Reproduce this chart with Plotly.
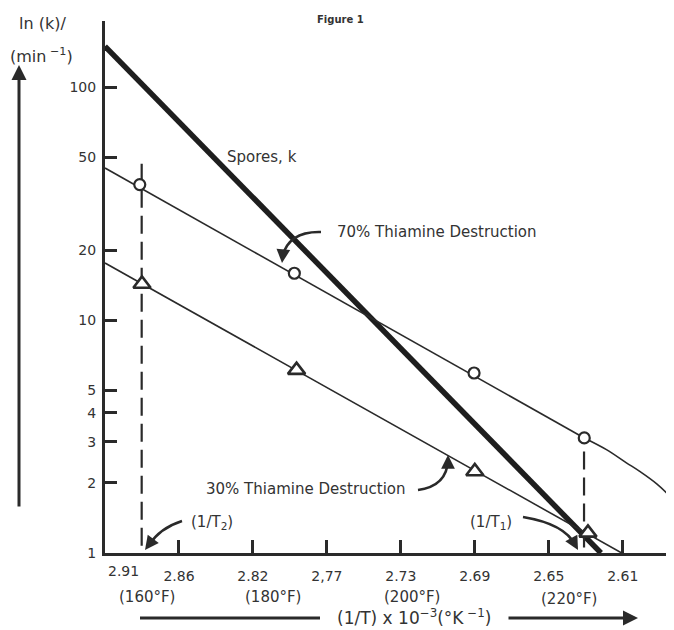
import plotly.graph_objects as go

# ---------------- data (x measured on the evenly spaced 160..230 °F tick scale) ----------
tick_pos = [160, 170, 180, 190, 200, 210, 220, 230]
tick_text = ["", "2.86", "2.82", "2,77", "2.73", "2.69", "2.65", "2.61"]
y_ticks = [1, 2, 3, 4, 5, 10, 20, 50, 100]

spores_x = [160.0, 227.06]
spores_k = [150.0, 1.0]

thi70_fit_x = [160.0, 224.8]
thi70_fit_k = [45.0, 3.12]
thi70_tail_x = [224.8, 227.8, 230.5, 232.3, 234.6, 236.9]
thi70_tail_k = [3.12, 2.78, 2.44, 2.24, 1.98, 1.69]
thi70_pts_x = [164.7, 185.6, 209.9, 224.8]
thi70_pts_k = [38.2, 15.9, 5.93, 3.12]

thi30_fit_x = [160.0, 229.86]
thi30_fit_k = [17.6, 1.0]
thi30_pts_x = [165.0, 185.9, 210.0, 225.3]
thi30_pts_k = [14.3, 6.1, 2.24, 1.22]

t2_x = [164.96, 164.96]
t2_k = [47.0, 1.0]
t1_x = [224.77, 224.77]
t1_k = [2.73, 1.0]

# ---------------- geometry helpers (page pixels; body has an 8px margin) ----------------
OFF = 8
W, H = 674 - OFF, 630 - OFF
ML, MR, MT, MB = 105 - OFF, 0, 21 - OFF, 77
PW, PH = W - ML - MR, H - MT - MB
DEC = 232.85
X0, Y0 = 105, 553  # page position of the plot's bottom-left corner


def pp(px, py):
    return (px - X0) / PW, (Y0 - py) / PH


INK = "#2a2a2a"
TXT = "#333333"
FONT = "DejaVu Sans"

fig = go.Figure()

fig.add_trace(go.Scatter(x=spores_x, y=spores_k, mode="lines",
                         line=dict(color="#1e1e1e", width=5.5), showlegend=False))
fig.add_trace(go.Scatter(x=thi70_fit_x, y=thi70_fit_k, mode="lines",
                         line=dict(color=INK, width=1.6), showlegend=False))
fig.add_trace(go.Scatter(x=thi70_tail_x, y=thi70_tail_k, mode="lines",
                         line=dict(color=INK, width=1.6, shape="spline"), showlegend=False))
fig.add_trace(go.Scatter(x=thi30_fit_x, y=thi30_fit_k, mode="lines",
                         line=dict(color=INK, width=1.6), showlegend=False))
for xs, ks in ((t2_x, t2_k), (t1_x, t1_k)):
    fig.add_trace(go.Scatter(x=xs, y=ks, mode="lines",
                             line=dict(color=INK, width=2.2, dash="18px,8px"), showlegend=False))
fig.add_trace(go.Scatter(x=thi70_pts_x, y=thi70_pts_k, mode="markers",
                         marker=dict(symbol="circle", size=11, color="white",
                                     line=dict(color=INK, width=2.2)), showlegend=False))
fig.add_trace(go.Scatter(x=thi30_pts_x, y=thi30_pts_k, mode="markers",
                         marker=dict(symbol="triangle-up", size=15, color="white",
                                     line=dict(color=INK, width=2.6)), showlegend=False))

fig.update_xaxes(range=[160, 160 + PW / 7.396], tickvals=tick_pos, ticktext=tick_text,
                 ticks="inside", ticklen=13, tickwidth=2.5, tickcolor=INK,
                 showline=True, linewidth=3, linecolor=INK, showgrid=False, zeroline=False,
                 tickfont=dict(family=FONT, size=14, color=TXT), ticklabelstandoff=8)
fig.update_yaxes(type="log", range=[0, PH / DEC], tickvals=y_ticks,
                 ticktext=[str(v) for v in y_ticks],
                 ticks="inside", ticklen=12, tickwidth=2.5, tickcolor=INK,
                 showline=True, linewidth=3, linecolor=INK, showgrid=False, zeroline=False,
                 tickfont=dict(family=FONT, size=14, color=TXT), ticklabelstandoff=3)

ann = []


def text(px, py, s, size=15, bold=False):
    x, y = pp(px, py)
    ann.append(dict(x=x, y=y, xref="paper", yref="paper", text=("<b>%s</b>" % s) if bold else s,
                    showarrow=False, font=dict(family=FONT, size=size, color=TXT),
                    xanchor="center", yanchor="middle"))


def head(px, py, ax, ay, width=2.5, size=1.1):
    x, y = pp(px, py)
    ann.append(dict(x=x, y=y, xref="paper", yref="paper", text="", showarrow=True,
                    ax=ax, ay=ay, arrowhead=2, arrowsize=size, arrowwidth=width,
                    arrowcolor=INK, standoff=0))


text(340, 19, "Figure 1", size=10, bold=True)
text(42, 23, "ln (k)/", size=16)
text(41, 55, "(min<sup> \u22121</sup>)", size=16)
text(262, 157, "Spores, k", size=15)
text(437, 232, "70% Thiamine Destruction", size=15)
text(306, 489, "30% Thiamine Destruction", size=15)
text(212, 522, "(1/T<sub>2</sub>)", size=15)
text(491, 522, "(1/T<sub>1</sub>)", size=15)
text(123, 571, "2.91", size=14)
text(147, 597, "(160\u00b0F)", size=15)
text(273, 597, "(180\u00b0F)", size=15)
text(412, 597, "(200\u00b0F)", size=15)
text(569, 599, "(220\u00b0F)", size=15)
text(414, 617, "(1/T) x 10<sup>\u22123</sup>(\u00b0K<sup> \u22121</sup>)", size=17)

# axis-label arrows
head(19, 65, 0, 443, width=3, size=1.0)
head(638, 618, -131, 0, width=3, size=1.0)

shapes = []
x0, y0 = pp(140, 618)
x1, y1 = pp(320, 618)
shapes.append(dict(type="line", xref="paper", yref="paper", x0=x0, y0=y0, x1=x1, y1=y1,
                   line=dict(color=INK, width=3)))


def curve(p0, c, p1):
    a, b, d = pp(*p0), pp(*c), pp(*p1)
    shapes.append(dict(type="path", xref="paper", yref="paper",
                       path="M %f,%f Q %f,%f %f,%f" % (a[0], a[1], b[0], b[1], d[0], d[1]),
                       line=dict(color=INK, width=2.6)))


curve((321, 232), (288, 231), (282, 258))
head(282, 263, 1, -10)
curve((418, 490), (447, 486), (448, 460))
head(448, 455, 0, 10)
curve((182, 521), (160, 528), (149, 545))
head(145, 550, 6, -8)
curve((523, 517), (565, 524), (575, 545))
head(578, 550, -5, -9)

fig.update_layout(width=W, height=H, margin=dict(l=ML, r=MR, t=MT, b=MB),
                  paper_bgcolor="white", plot_bgcolor="white",
                  annotations=ann, shapes=shapes, showlegend=False)

fig.write_html("out.html")
